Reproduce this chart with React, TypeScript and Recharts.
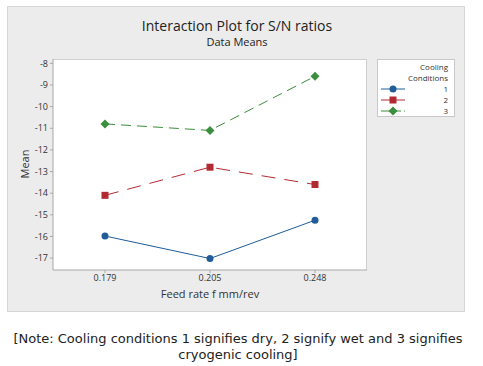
import React from "react";
import { LineChart, Line, XAxis, YAxis } from "recharts";

const feedRates = ["0.179", "0.205", "0.248"];
const cond1 = [-15.98, -17.02, -15.25];
const cond2 = [-14.1, -12.8, -13.6];
const cond3 = [-10.8, -11.1, -8.6];
const yTicks = [-8, -9, -10, -11, -12, -13, -14, -15, -16, -17];
const seriesNames = ["1", "2", "3"];
const seriesColors = ["#1f5c99", "#b22a31", "#3b8e3b"];

const data = feedRates.map((f, i) => ({ f, c1: cond1[i], c2: cond2[i], c3: cond3[i] }));

const FONT = "'Open Sans', 'DejaVu Sans', sans-serif";

const Diamond = (props: any) => {
  const { cx, cy, fill } = props;
  if (cx == null || cy == null) return null;
  const r = 4.5;
  return <path d={`M${cx},${cy - r}L${cx + r},${cy}L${cx},${cy + r}L${cx - r},${cy}Z`} fill={fill} />;
};
const Square = (props: any) => {
  const { cx, cy, fill } = props;
  if (cx == null || cy == null) return null;
  return <rect x={cx - 3.5} y={cy - 3.5} width={7} height={7} fill={fill} />;
};
const Dot = (props: any) => {
  const { cx, cy, fill } = props;
  if (cx == null || cy == null) return null;
  return <circle cx={cx} cy={cy} r={3.5} fill={fill} />;
};

const markerFor = (i: number, x: number, y: number, fill: string) => {
  if (i === 0) return <Dot cx={x} cy={y} fill={fill} />;
  if (i === 1) return <Square cx={x} cy={y} fill={fill} />;
  return <Diamond cx={x} cy={y} fill={fill} />;
};

const LegendBox = () => {
  const rowStyle: React.CSSProperties = { position: "absolute", right: 6, lineHeight: "10px", height: 10, textAlign: "right", whiteSpace: "nowrap" };
  return (
    <div
      style={{
        position: "absolute",
        left: 377,
        top: 59,
        width: 78,
        height: 58,
        background: "#fff",
        border: "1px solid #c8c8c8",
        fontFamily: FONT,
        fontSize: 8,
        color: "#333",
        boxSizing: "border-box",
      }}
    >
      <div style={{ ...rowStyle, top: 2 }}>Cooling</div>
      <div style={{ ...rowStyle, top: 12.5 }}>Conditions</div>
      {seriesNames.map((name, i) => (
        <div key={i} style={{ position: "absolute", left: 0, top: 24 + i * 10.8, width: 76, height: 10 }}>
          <svg width={30} height={10} style={{ position: "absolute", left: 2, top: 0 }}>
            <line x1={1} y1={5} x2={25} y2={5} stroke={seriesColors[i]} strokeWidth={1} strokeDasharray={i === 2 ? "20 3 1 10" : undefined} />
            {markerFor(i, 13, 5, seriesColors[i])}
          </svg>
          <span style={{ ...rowStyle, top: 0 }}>{name}</span>
        </div>
      ))}
    </div>
  );
};

export default function App() {
  return (
    <div style={{ position: "absolute", left: 0, top: 0, width: 483, height: 366, background: "#fff", overflow: "hidden" }}>
      <div
        style={{
          position: "absolute",
          left: 7,
          top: 6,
          width: 458,
          height: 306,
          background: "#ececec",
          border: "1px solid #d6d6d6",
          boxSizing: "border-box",
        }}
      />
      <div
        style={{
          position: "absolute",
          left: 53,
          top: 59,
          width: 314,
          height: 211,
          background: "#fff",
          borderTop: "1px solid #d0d0d0",
          borderRight: "1px solid #d0d0d0",
          boxSizing: "border-box",
        }}
      />
      <div
        style={{
          position: "absolute",
          left: 0,
          width: 474,
          top: 17,
          textAlign: "center",
          fontFamily: FONT,
          fontSize: 14,
          color: "#222",
          lineHeight: "18px",
        }}
      >
        Interaction Plot for S/N ratios
      </div>
      <div
        style={{
          position: "absolute",
          left: 0,
          width: 474,
          top: 35,
          textAlign: "center",
          fontFamily: FONT,
          fontSize: 11,
          color: "#222",
          lineHeight: "14px",
        }}
      >
        Data Means
      </div>
      <LegendBox />
      <div style={{ position: "absolute", left: 0, top: 0 }}>
        <LineChart width={483} height={320} data={data} margin={{ top: 59, right: 116, bottom: 20, left: 13 }}>
          <XAxis
            dataKey="f"
            padding={{ left: 52, right: 52 }}
            axisLine={{ stroke: "#a8a8a8" }}
            tickLine={{ stroke: "#a8a8a8" }}
            tickSize={3}
            tick={{ fontSize: 9, fill: "#333", fontFamily: FONT }}
            height={30}
            label={{ value: "Feed rate f mm/rev", position: "insideBottom", offset: 2, fontSize: 11, fill: "#333", fontFamily: FONT }}
          />
          <YAxis
            type="number"
            domain={[-17.55, -7.8]}
            ticks={yTicks}
            axisLine={{ stroke: "#a8a8a8" }}
            tickLine={{ stroke: "#a8a8a8" }}
            tickSize={3}
            tick={{ fontSize: 9, fill: "#333", fontFamily: FONT }}
            width={40}
            allowDataOverflow
            label={{ value: "Mean", angle: -90, position: "insideLeft", offset: 12, fontSize: 11, fill: "#333", fontFamily: FONT, dy: 14 }}
          />
          <Line
            name={seriesNames[0]}
            dataKey="c1"
            stroke={seriesColors[0]}
            strokeWidth={1}
            dot={<Dot fill={seriesColors[0]} />}
            activeDot={false}
            isAnimationActive={false}
          />
          <Line
            name={seriesNames[1]}
            dataKey="c2"
            stroke={seriesColors[1]}
            strokeWidth={1}
            strokeDasharray="14 9"
            dot={<Square fill={seriesColors[1]} />}
            activeDot={false}
            isAnimationActive={false}
          />
          <Line
            name={seriesNames[2]}
            dataKey="c3"
            stroke={seriesColors[2]}
            strokeWidth={1}
            strokeDasharray="10 6"
            dot={<Diamond fill={seriesColors[2]} />}
            activeDot={false}
            isAnimationActive={false}
          />
        </LineChart>
      </div>
      <div
        style={{
          position: "absolute",
          left: 0,
          width: 476,
          top: 331,
          textAlign: "center",
          fontFamily: "'DejaVu Sans', sans-serif",
          fontSize: 13,
          color: "#222",
          lineHeight: "16px",
        }}
      >
        [Note: Cooling conditions 1 signifies dry, 2 signify wet and 3 signifies
        <br />
        cryogenic cooling]
      </div>
    </div>
  );
}
